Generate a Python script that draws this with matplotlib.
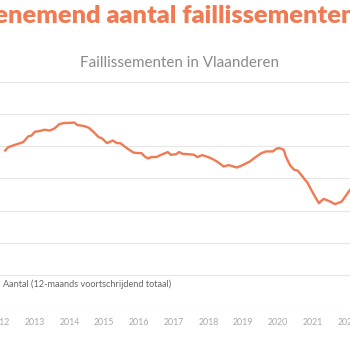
import matplotlib
matplotlib.use('Agg')
import matplotlib.pyplot as plt
import numpy as np

# 12-maands voortschrijdend totaal
jaren = [2012.15, 2012.24, 2012.43, 2012.67, 2012.81, 2012.91, 2013.00, 2013.14,
         2013.28, 2013.43, 2013.57, 2013.71, 2013.85, 2014.04, 2014.14, 2014.23,
         2014.42, 2014.56, 2014.70, 2014.84, 2014.94, 2015.08, 2015.25, 2015.36,
         2015.46, 2015.65, 2015.84, 2015.98, 2016.07, 2016.17, 2016.26, 2016.36,
         2016.50, 2016.64, 2016.83, 2016.92, 2017.07, 2017.16, 2017.26, 2017.40,
         2017.59, 2017.68, 2017.82, 2017.97, 2018.11, 2018.25, 2018.44, 2018.58,
         2018.82, 2018.96, 2019.19, 2019.38, 2019.53, 2019.67, 2019.86, 2019.95,
         2020.04, 2020.17, 2020.23, 2020.36, 2020.47, 2020.57, 2020.71, 2020.85,
         2021.04, 2021.18, 2021.32, 2021.51, 2021.65, 2021.84, 2021.94, 2022.08]
aantal = [4870, 4975, 5045, 5130, 5305, 5335, 5450, 5475,
          5515, 5490, 5555, 5690, 5725, 5730, 5740, 5660,
          5630, 5575, 5440, 5285, 5245, 5100, 5180, 5100,
          5100, 4945, 4805, 4790, 4790, 4680, 4620, 4665,
          4665, 4735, 4820, 4735, 4755, 4820, 4765, 4755,
          4735, 4665, 4725, 4675, 4610, 4525, 4370, 4415,
          4340, 4400, 4525, 4680, 4790, 4840, 4840, 4920,
          4945, 4890, 4680, 4395, 4270, 4245, 4060, 3870,
          3490, 3230, 3365, 3280, 3200, 3280, 3435, 3645]

jaartallen = list(range(2012, 2023))
rasterlijnen = list(range(0, 8000, 1000))

oranje = '#f07a52'

fig = plt.figure(figsize=(3.5, 3.5), dpi=100)
ax = fig.add_axes([0, 1 - 307 / 350, 1, (307 - 82) / 350])

ax.plot(jaren, aantal, color=oranje, linewidth=1.7, solid_joinstyle='round',
        label='Aantal (12-maands voortschrijdend totaal)')

ax.set_xlim(2013 - 30 / 35.25, 2013 + 320 / 35.25)
ax.set_ylim(0, 7000)
ax.set_yticks(rasterlijnen)
ax.set_yticklabels([])
ax.set_xticks(jaartallen)
ax.set_xticklabels([str(j) for j in jaartallen], fontsize=6.3, color='#a8a8a8',
                   family=['Lato', 'DejaVu Sans'])
ax.tick_params(axis='both', length=0)
ax.tick_params(axis='x', pad=8)
ax.grid(axis='y', color='#e6e6e6', linewidth=0.8)
for s in ax.spines.values():
    s.set_visible(False)

leg = ax.legend(loc='center left', bbox_to_anchor=(-0.0637, 1 - 284 / 350),
                bbox_transform=fig.transFigure, frameon=False, borderpad=0,
                borderaxespad=0, handlelength=2.0, handletextpad=0.8,
                prop={'family': ['Lato', 'DejaVu Sans'], 'size': 6.6})
for t in leg.get_texts():
    t.set_color('#666666')

fig.text(355 / 350, 1 - 23 / 350, 'Toenemend aantal faillissementen',
         ha='right', va='baseline', fontsize=18.3, fontweight='heavy', color=oranje,
         family=['Lato', 'DejaVu Sans'])
fig.text(179.5 / 350, 1 - 63 / 350, 'Faillissementen in Vlaanderen',
         ha='center', va='center', fontsize=10.9, color='#8a8a8a',
         family=['Lato', 'DejaVu Sans'])

fig.savefig('out.png', dpi=100)
